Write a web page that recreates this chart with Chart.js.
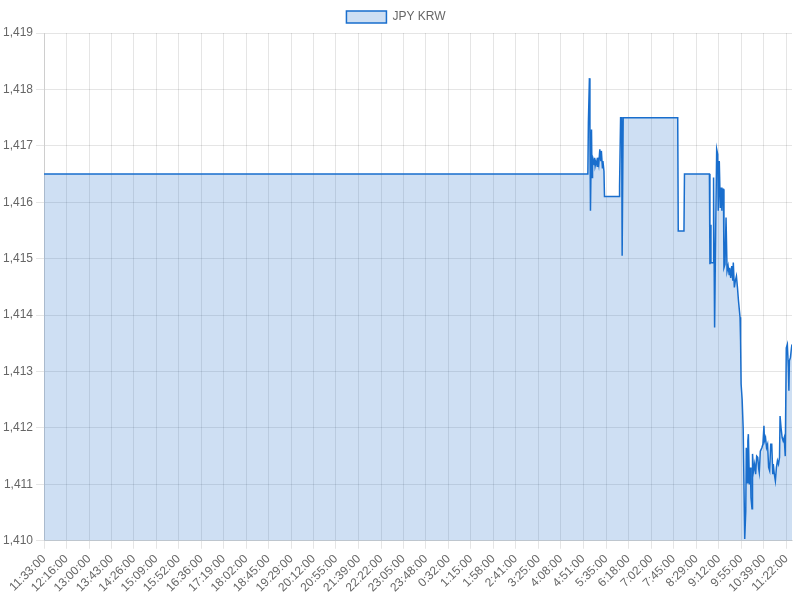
<!DOCTYPE html>
<html>
<head>
<meta charset="utf-8">
<script src="https://cdn.jsdelivr.net/npm/chart.js@4/dist/chart.umd.min.js"></script>
<style>
  html, body { margin: 0; padding: 0; background: #fff; }
  #container { width: 800px; height: 600px; }
</style>
</head>
<body>
<div id="container">
  <canvas id="myChart"></canvas>
</div>
<script>
// start of the 24h window
var startTime = '11:33';

// tick labels shown under the x axis
var tickLabels = ['11:33:00', '12:16:00', '13:00:00', '13:43:00', '14:26:00', '15:09:00',
  '15:52:00', '16:36:00', '17:19:00', '18:02:00', '18:45:00', '19:29:00', '20:12:00',
  '20:55:00', '21:39:00', '22:22:00', '23:05:00', '23:48:00', '0:32:00', '1:15:00',
  '1:58:00', '2:41:00', '3:25:00', '4:08:00', '4:51:00', '5:35:00', '6:18:00',
  '7:02:00', '7:45:00', '8:29:00', '9:12:00', '9:55:00', '10:39:00', '11:22:00'];

// sample times and JPY KRW rates
var times = ['11:33', '5:00', '5:01', '5:03', '5:04', '5:05', '5:07', '5:08', '5:09', '5:10',
  '5:12', '5:13', '5:14', '5:16', '5:18', '5:19', '5:21', '5:23', '5:25', '5:26',
  '5:28', '5:29', '5:31', '5:32', '6:00', '6:01', '6:03', '6:05', '6:06', '6:08',
  '7:53', '7:54', '8:05', '8:06', '8:54', '8:55', '8:56', '8:57', '9:01', '9:02',
  '9:04', '9:06', '9:08', '9:10', '9:11', '9:13', '9:15', '9:17', '9:18', '9:19',
  '9:21', '9:22', '9:24', '9:26', '9:28', '9:30', '9:32', '9:33', '9:35', '9:37',
  '9:39', '9:40', '9:42', '9:44', '9:46', '9:48', '9:50', '9:53', '9:54', '9:55',
  '9:57', '9:59', '10:02', '10:04', '10:05', '10:07', '10:08', '10:09', '10:11', '10:13',
  '10:14', '10:16', '10:17', '10:19', '10:21', '10:23', '10:25', '10:27', '10:29', '10:30',
  '10:32', '10:35', '10:37', '10:39', '10:40', '10:42', '10:44', '10:46', '10:48', '10:50',
  '10:52', '10:54', '10:56', '10:57', '10:59', '11:01', '11:03', '11:05', '11:07', '11:09',
  '11:10', '11:12', '11:14', '11:16', '11:18', '11:20', '11:22', '11:24', '11:26', '11:27',
  '11:28', '11:30', '11:32', '11:33'];

var rates = [1416.5, 1416.5, 1417.41, 1418.2, 1417.26, 1415.85, 1417.29, 1416.44, 1416.67, 1416.76,
  1416.67, 1416.79, 1416.64, 1416.73, 1416.64, 1416.79, 1416.67, 1416.94, 1416.73, 1416.91,
  1416.61, 1416.73, 1416.55, 1416.1, 1416.1, 1416.29, 1417.5, 1417.5, 1415.05, 1417.5,
  1417.5, 1415.49, 1415.49, 1416.5, 1416.5, 1414.9, 1415.6, 1414.93, 1414.93, 1416.44,
  1413.78, 1415.44, 1416.94, 1416.85, 1415.85, 1416.73, 1415.9, 1416.26, 1415.85, 1416.23,
  1416.23, 1414.84, 1414.9, 1415.73, 1414.78, 1414.87, 1414.72, 1414.84, 1414.66, 1414.87,
  1414.61, 1414.93, 1414.49, 1414.61, 1414.69, 1414.49, 1414.25, 1413.96, 1413.54, 1412.78,
  1412.51, 1412.0, 1410.03, 1410.53, 1411.65, 1411.03, 1411.77, 1411.89, 1411.0, 1411.3,
  1410.77, 1410.57, 1411.54, 1411.24, 1411.36, 1411.18, 1411.5, 1411.48, 1411.27, 1411.21,
  1411.59, 1411.65, 1411.71, 1412.04, 1411.77, 1411.83, 1411.65, 1411.71, 1411.3, 1411.24,
  1411.71, 1411.71, 1411.18, 1411.36, 1411.18, 1411.06, 1411.3, 1411.42, 1411.36, 1411.48,
  1412.21, 1412.0, 1411.83, 1411.77, 1411.83, 1411.5, 1413.42, 1413.48, 1413.07, 1412.66,
  1413.19, 1413.25, 1413.42, 1413.48];

// minutes elapsed since startTime, wrapping past midnight
function toMinutes(t) {
  var p = t.split(':');
  var s = startTime.split(':');
  var m = (+p[0] * 60 + +p[1]) - (+s[0] * 60 + +s[1]);
  return m < 0 ? m + 1440 : m;
}

var tickValues = tickLabels.map(toMinutes);
var points = times.map(function (t, i) {
  return { x: i === times.length - 1 ? 1440 : toMinutes(t), y: rates[i] };
});

var ctx = document.getElementById('myChart').getContext('2d');
new Chart(ctx, {
  type: 'line',
  data: {
    datasets: [{
      label: 'JPY KRW',
      data: points,
      borderColor: 'rgb(25,110,205)',
      backgroundColor: 'rgba(30,110,200,0.22)',
      borderWidth: 1.5,
      pointRadius: 0,
      tension: 0,
      fill: true
    }]
  },
  options: {
    responsive: true,
    maintainAspectRatio: false,
    animation: false,
    layout: { padding: { top: 1, right: 8, bottom: 2 } },
    plugins: {
      legend: { labels: { color: '#666', font: { size: 12 } } },
      tooltip: { enabled: false }
    },
    scales: {
      x: {
        type: 'linear',
        min: 0,
        max: 1440,
        afterBuildTicks: function (axis) {
          axis.ticks = tickValues.map(function (v) { return { value: v }; });
        },
        ticks: {
          autoSkip: false,
          minRotation: 45,
          maxRotation: 45,
          color: '#666',
          callback: function (value) {
            return tickLabels[tickValues.indexOf(value)];
          }
        },
        grid: { color: 'rgba(0,0,0,0.1)' }
      },
      y: {
        min: 1410,
        max: 1419,
        ticks: { stepSize: 1, color: '#666' },
        grid: { color: 'rgba(0,0,0,0.1)' }
      }
    }
  }
});
</script>
</body>
</html>
